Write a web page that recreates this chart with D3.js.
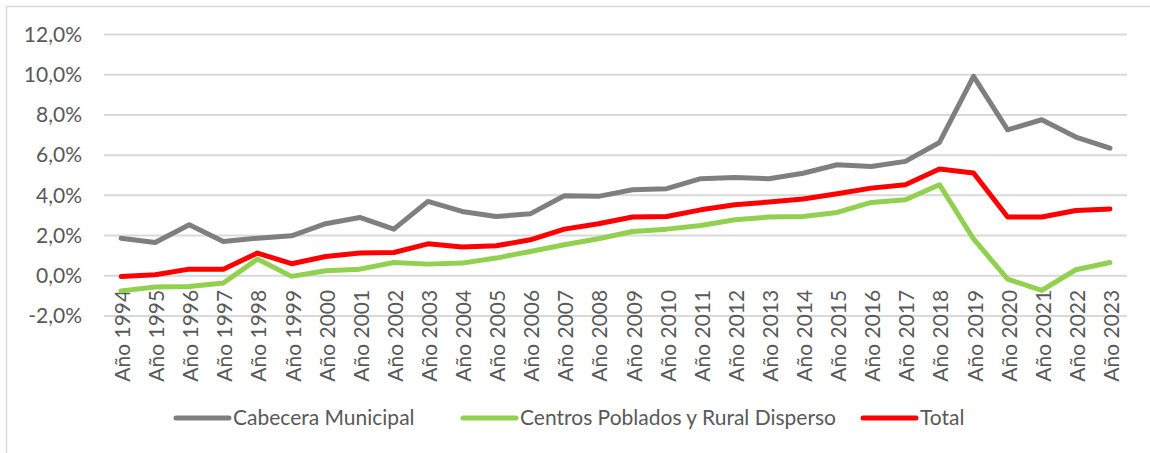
<!DOCTYPE html>
<html lang="es">
<head>
<meta charset="UTF-8">
<title>Tasa de crecimiento</title>
<script src="https://d3js.org/d3.v7.min.js"></script>
<style>
  body { margin: 0; background: #fff; }
  svg { display: block; font-family: Lato, "Noto Sans", sans-serif; }
  .tick text { fill: #595959; }
</style>
</head>
<body>
<svg id="chart" width="1150" height="453"></svg>
<script>
// years on the x axis
const years = d3.range(1994, 2024).map(y => "Año " + y);

// values, in percent
const cabecera = [1.87, 1.66, 2.54, 1.71, 1.87, 1.99, 2.59, 2.90, 2.32, 3.70,
                  3.20, 2.95, 3.08, 3.98, 3.95, 4.28, 4.33, 4.83, 4.89, 4.83,
                  5.10, 5.52, 5.44, 5.69, 6.63, 9.92, 7.26, 7.76, 6.90, 6.35];
const centros  = [-0.75, -0.56, -0.53, -0.36, 0.83, -0.03, 0.25, 0.33, 0.66, 0.58,
                  0.63, 0.88, 1.21, 1.54, 1.84, 2.20, 2.32, 2.50, 2.79, 2.92,
                  2.95, 3.15, 3.65, 3.78, 4.53, 1.83, -0.17, -0.73, 0.30, 0.66];
const total    = [-0.03, 0.05, 0.33, 0.33, 1.13, 0.60, 0.96, 1.13, 1.16, 1.59,
                  1.43, 1.49, 1.79, 2.32, 2.59, 2.92, 2.95, 3.28, 3.53, 3.67,
                  3.82, 4.08, 4.36, 4.53, 5.31, 5.11, 2.92, 2.92, 3.25, 3.32];

const yTicks = [-2, 0, 2, 4, 6, 8, 10, 12];

const series = [
  { name: "Cabecera Municipal", values: cabecera, color: "#7f7f7f" },
  { name: "Centros Poblados y Rural Disperso", values: centros, color: "#92d050" },
  { name: "Total", values: total, color: "#ff0000" }
];

const fontSize = 21;
const svg = d3.select("#chart");

// outer frame (only top and left edges are visible in the crop)
svg.append("rect")
    .attr("x", 6.5).attr("y", 6.5)
    .attr("width", 1200).attr("height", 500)
    .attr("fill", "none")
    .attr("stroke", "#d9d9d9")
    .attr("stroke-width", 1.5);

const plotLeft = 104, plotRight = 1127;

const x = d3.scaleBand()
    .domain(years)
    .range([plotLeft, plotRight]);

const y = d3.scaleLinear()
    .domain([-2, 12])
    .range([316, 34.5]);

// gridlines
svg.append("g")
  .selectAll("line")
  .data(yTicks)
  .join("line")
    .attr("x1", plotLeft).attr("x2", plotRight)
    .attr("y1", d => y(d)).attr("y2", d => y(d))
    .attr("stroke", "#d9d9d9")
    .attr("stroke-width", 2);

// y axis labels
const yAxis = d3.axisLeft(y)
    .tickValues(yTicks)
    .tickSize(0)
    .tickPadding(0)
    .tickFormat(d => d.toFixed(1).replace(".", ",") + "%");

svg.append("g")
    .attr("transform", "translate(82,0)")
    .call(yAxis)
    .call(g => g.select(".domain").remove())
    .selectAll("text")
    .attr("font-size", fontSize)
    .attr("font-family", "Lato, 'Noto Sans', sans-serif");

// x axis labels, rotated, hanging below the 0% line
const xAxis = d3.axisBottom(x).tickSize(0).tickPadding(0);

svg.append("g")
    .attr("transform", "translate(0," + y(0) + ")")
    .call(xAxis)
    .call(g => g.select(".domain").remove())
    .selectAll("text")
    .attr("font-size", fontSize)
    .attr("font-family", "Lato, 'Noto Sans', sans-serif")
    .attr("text-anchor", "end")
    .attr("dy", null)
    .attr("y", 0)
    .attr("transform", "translate(9,14) rotate(-90)");

// lines
const line = d3.line()
    .x((d, i) => x(years[i]) + x.bandwidth() / 2)
    .y(d => y(d));

svg.append("g")
  .selectAll("path")
  .data(series)
  .join("path")
    .attr("d", d => line(d.values))
    .attr("fill", "none")
    .attr("stroke", d => d.color)
    .attr("stroke-width", 5)
    .attr("stroke-linejoin", "round")
    .attr("stroke-linecap", "round");

// legend
const legendX = [176, 463, 863];
const legend = svg.append("g")
  .selectAll("g")
  .data(series)
  .join("g")
    .attr("transform", (d, i) => `translate(${legendX[i]},418)`);

legend.append("line")
    .attr("x1", 0).attr("x2", 53)
    .attr("stroke", d => d.color)
    .attr("stroke-width", 5)
    .attr("stroke-linecap", "round");

legend.append("text")
    .attr("x", 57)
    .attr("dy", "0.35em")
    .attr("font-size", fontSize)
    .attr("fill", "#595959")
    .text(d => d.name);
</script>
</body>
</html>
